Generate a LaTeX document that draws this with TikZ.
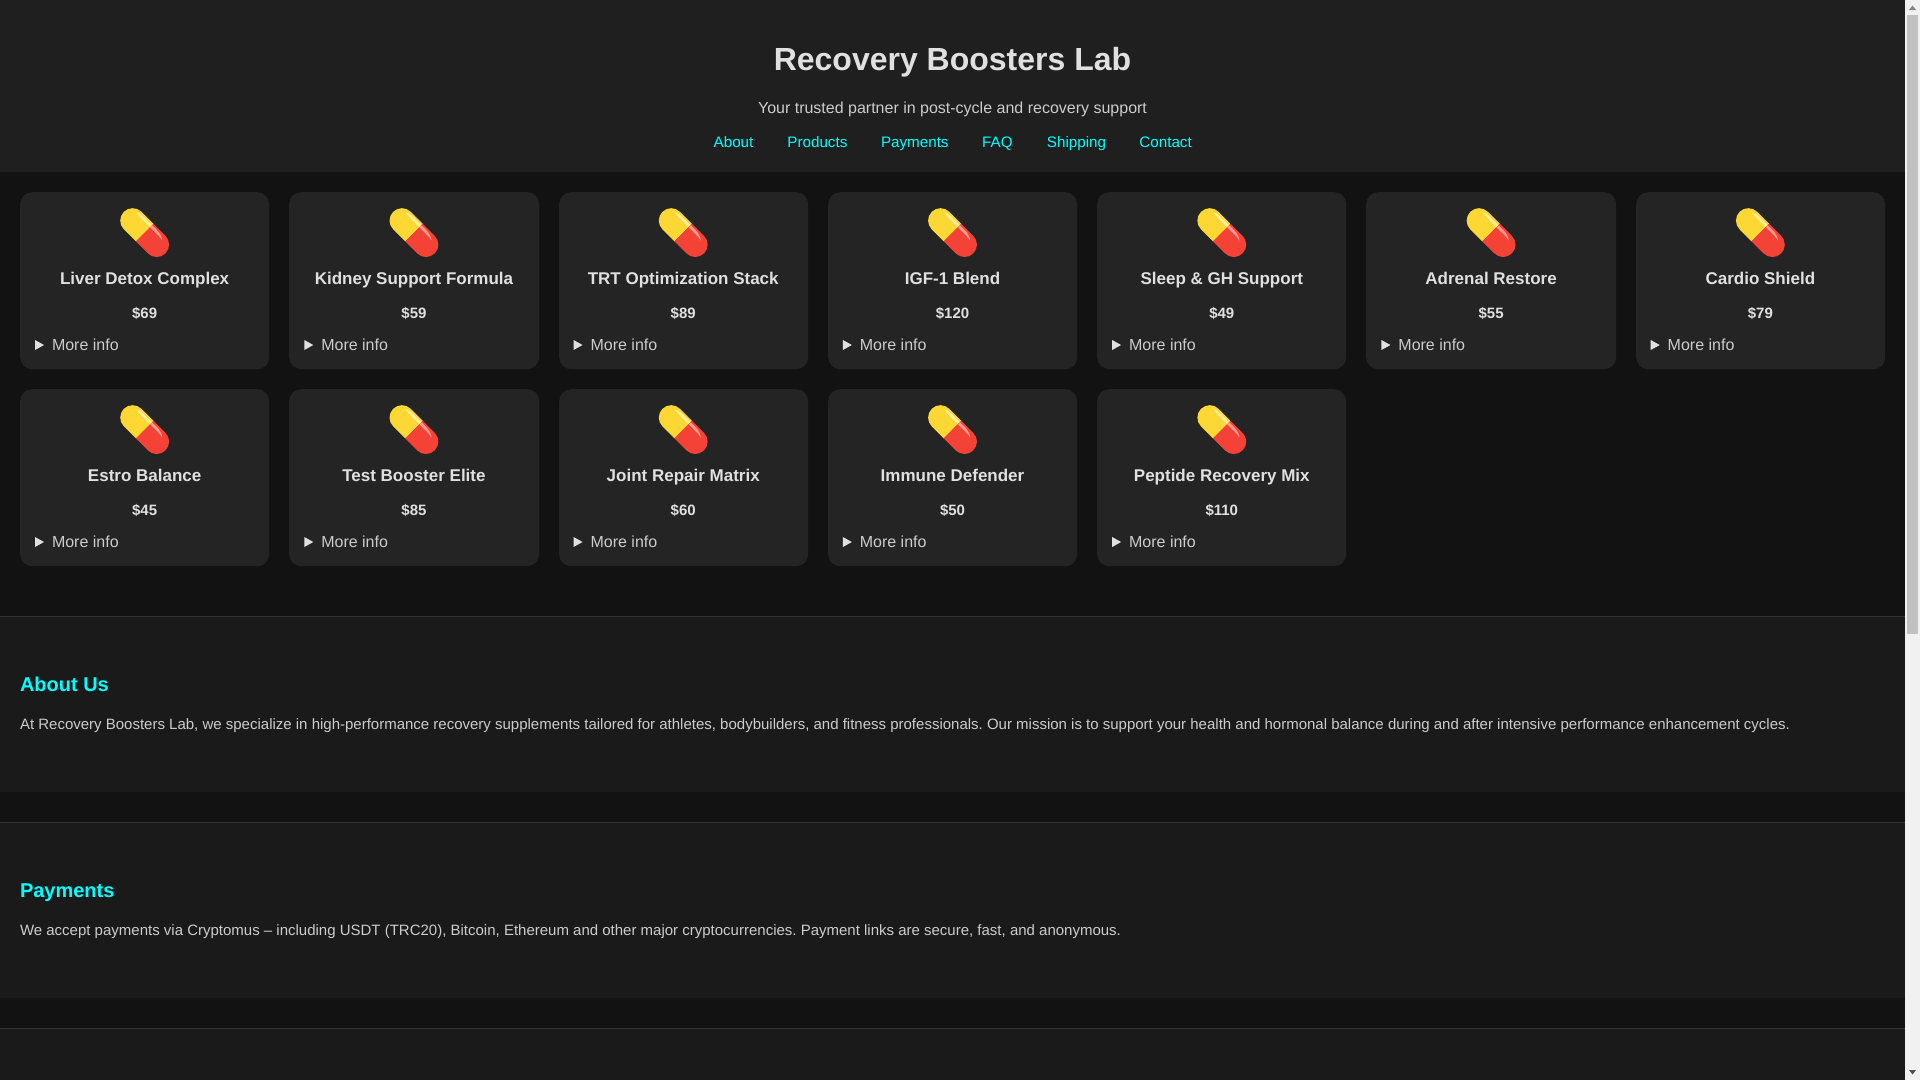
\documentclass[tikz,border=0pt]{standalone}
\usepackage{fontspec}
\setmainfont{Liberation Sans}
\usetikzlibrary{calc}
\definecolor{pagebg}{HTML}{121212}
\definecolor{headbg}{HTML}{1F1F1F}
\definecolor{cardbg}{HTML}{242424}
\definecolor{secbg}{HTML}{1A1A1A}
\definecolor{rulec}{HTML}{333333}
\definecolor{txt}{HTML}{E0E0E0}
\definecolor{txtb}{HTML}{CCCCCC}
\definecolor{cyanc}{HTML}{00FFFF}
\definecolor{pillY}{HTML}{FDD835}
\definecolor{pillR}{HTML}{F44336}
\definecolor{hiY}{HTML}{FFEE99}
\definecolor{hiR}{HTML}{FF9C92}
\definecolor{sbtrack}{HTML}{F1F1F1}
\definecolor{sbthumb}{HTML}{C1C1C1}
\definecolor{sbarrow}{HTML}{505050}
\tikzset{
  x=1pt,y=-1pt,
  cardbox/.style={fill=cardbg,draw=none,rounded corners=12pt},
  txtbase/.style={inner sep=0pt,outer sep=0pt,anchor=base,text=txt},
  titlelab/.style={txtbase,font=\frenchspacing\fontsize{17}{20}\selectfont\bfseries},
  pricelab/.style={txtbase,font=\fontsize{15}{20}\selectfont\bfseries},
  morelab/.style={txtbase,text=txtb,anchor=base west,font=\fontsize{16}{20}\selectfont},
  navlab/.style={inner sep=0pt,outer sep=0pt,anchor=base west,text=cyanc,font=\fontsize{15.2}{18}\selectfont},
  headlab/.style={inner sep=0pt,outer sep=0pt,anchor=base west,text=cyanc,font=\fontsize{20}{24}\selectfont\bfseries},
  bodylab/.style={txtbase,text=txtb,anchor=base west,font=\frenchspacing\fontsize{15}{20}\selectfont},
  pics/pill/.style={code={
    \begin{scope}[rotate=-45]
      \begin{scope}
        \clip[rounded corners=12.4pt] (-29.4,-12.4) rectangle (29.4,12.4);
        \fill[pillY] (-31,-13) rectangle (0,13);
        \fill[pillR] (0,-13) rectangle (31,13);
      \end{scope}
      \fill[hiY] (-0.3,-10.4) -- (-12,-10.4) .. controls (-16,-10.2) and (-19,-9.6) .. (-20,-8.4)
        .. controls (-18,-7.9) and (-14,-7.8) .. (-10,-7.6) -- (-0.3,-7.6) -- cycle;
      \fill[hiR] (0.3,-10.4) -- (7,-10.4) .. controls (12,-10.2) and (16,-8.9) .. (18,-6.8)
        .. controls (15,-7.6) and (11,-7.8) .. (7,-7.6) -- (0.3,-7.6) -- cycle;
    \end{scope}
  }}
}
\newcommand{\cardat}[5]{% name, x, y, title, price
  \pgfmathsetmacro{\cl}{round(#2)}
  \pgfmathsetmacro{\cw}{round(#2+249.29)-round(#2)}
  \node[cardbox,minimum width=\cw pt,minimum height=177pt,anchor=north west,inner sep=0pt] (#1) at (\cl,#3) {};
  \pic (#1pill) at ($(#2,#3)+(124.65,40.6)$) {pill};
  \node[titlelab] (#1t) at ($(#2,#3)+(124.65,92.5)$) {#4};
  \node[pricelab] (#1p) at ($(#2,#3)+(124.65,126)$) {#5};
  \fill[txt] ($(#2,#3)+(15,148)$) -- ($(#2,#3)+(15,158)$) -- ($(#2,#3)+(24,153)$) -- cycle;
  \node[morelab] (#1m) at ($(#2,#3)+(32,158)$) {More info};
}
\begin{document}
\begin{tikzpicture}
\useasboundingbox (0,0) rectangle (1920,1080);
\fill[pagebg] (0,0) rectangle (1920,1080);
% header
\fill[headbg] (0,0) rectangle (1905,172);
\node[inner sep=0pt,anchor=base,text=txt,font=\frenchspacing\fontsize{32}{36}\selectfont\bfseries] (title) at (952.5,70) {Recovery Boosters Lab};
\node[inner sep=0pt,anchor=base,text=txtb,font=\fontsize{16}{20}\selectfont] (sub) at (952.5,113.7) {Your trusted partner in post-cycle and recovery support};
\node[navlab] (nava) at (713.7,147.6) {About};
\node[navlab] (navb) at (787.4,147.6) {Products};
\node[navlab] (navc) at (881,147.6) {Payments};
\node[navlab] (navd) at (982.2,147.6) {FAQ};
\node[navlab] (nave) at (1046.9,147.6) {Shipping};
\node[navlab] (navf) at (1139.4,147.6) {Contact};
% cards
\cardat{ca}{20}{192}{Liver Detox Complex}{\$69}
\cardat{cb}{289.29}{192}{Kidney Support Formula}{\$59}
\cardat{cc}{558.57}{192}{TRT Optimization Stack}{\$89}
\cardat{cd}{827.86}{192}{IGF-1 Blend}{\$120}
\cardat{ce}{1097.14}{192}{Sleep \& GH Support}{\$49}
\cardat{cf}{1366.43}{192}{Adrenal Restore}{\$55}
\cardat{cg}{1635.71}{192}{Cardio Shield}{\$79}
\cardat{da}{20}{389}{Estro Balance}{\$45}
\cardat{db}{289.29}{389}{Test Booster Elite}{\$85}
\cardat{dc}{558.57}{389}{Joint Repair Matrix}{\$60}
\cardat{dd}{827.86}{389}{Immune Defender}{\$50}
\cardat{de}{1097.14}{389}{Peptide Recovery Mix}{\$110}
% sections
\fill[secbg] (0,617) rectangle (1905,792);
\fill[secbg] (0,823) rectangle (1905,998);
\fill[secbg] (0,1029) rectangle (1905,1080);
\fill[rulec] (0,616) rectangle (1905,617);
\fill[rulec] (0,822) rectangle (1905,823);
\fill[rulec] (0,1028) rectangle (1905,1029);
\node[headlab] (h1) at (20,691) {About Us};
\node[bodylab] (b1) at (20,729.5) {At Recovery Boosters Lab, we specialize in high-performance recovery supplements tailored for athletes, bodybuilders, and fitness professionals. Our mission is to support your health and hormonal balance during and after intensive performance enhancement cycles.};
\node[headlab] (h2) at (20,897.5) {Payments};
\node[bodylab] (b2) at (20,935.5) {We accept payments via Cryptomus – including USDT (TRC20), Bitcoin, Ethereum and other major cryptocurrencies. Payment links are secure, fast, and anonymous.};
% scrollbar
\fill[sbtrack] (1905,0) rectangle (1920,1080);
\fill[sbthumb] (1907,15) rectangle (1918,634);
\fill[sbarrow!70!white] (1909,10) -- (1916,10) -- (1912.5,5.5) -- cycle;
\fill[sbarrow] (1909,1070) -- (1916,1070) -- (1912.5,1074.5) -- cycle;
\end{tikzpicture}
\end{document}
